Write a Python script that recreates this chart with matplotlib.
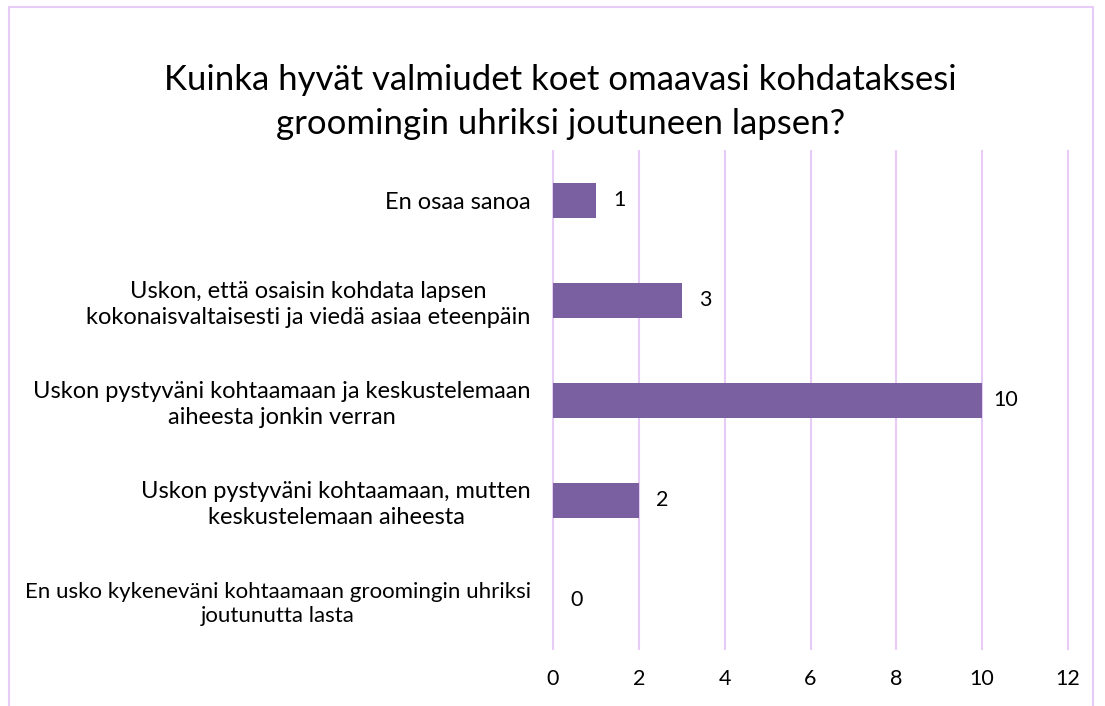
import matplotlib.pyplot as plt
from matplotlib.patches import Rectangle

categories = [
    "En usko kykeneväni kohtaamaan groomingin uhriksi\njoutunutta lasta",
    "Uskon pystyväni kohtaamaan, mutten\nkeskustelemaan aiheesta",
    "Uskon pystyväni kohtaamaan ja keskustelemaan\naiheesta jonkin verran",
    "Uskon, että osaisin kohdata lapsen\nkokonaisvaltaisesti ja viedä asiaa eteenpäin",
    "En osaa sanoa",
]
values = [0, 2, 10, 3, 1]
xticks = [0, 2, 4, 6, 8, 10, 12]
title = "Kuinka hyvät valmiudet koet omaavasi kohdataksesi\ngroomingin uhriksi joutuneen lapsen?"

bar_color = "#7A60A1"
grid_color = "#E8CCF8"
font = ["Lato", "DejaVu Sans"]
plt.rcParams["font.family"] = font

fig = plt.figure(figsize=(11.05, 7.06), dpi=100)
fig.patches.append(Rectangle((9/1105, -0.01), (1093-9)/1105, 1 - 7/706 + 0.01,
                             transform=fig.transFigure, fill=False,
                             edgecolor=grid_color, linewidth=1.5))

ax = fig.add_axes([553/1105, 1 - 650/706, (1068-553)/1105, 500/706])
ypos = list(range(len(categories)))
ax.barh(ypos, values, height=0.35, color=bar_color, zorder=3)
ax.set_xlim(0, 12)
ax.set_ylim(-0.5, 4.5)
ax.set_xticks(xticks)
ax.set_xticklabels([str(t) for t in xticks], fontsize=15.5)
ax.set_yticks(ypos)
ax.set_yticklabels(categories, fontsize=17, multialignment="center",
                   linespacing=1.28)
# the longest label: Lato is wider than the original font for this one
ax.get_yticklabels()[0].set_fontsize(16)
ax.tick_params(axis="both", length=0, colors="black")
ax.tick_params(axis="x", pad=14)
ax.tick_params(axis="y", pad=16)
for s in ax.spines.values():
    s.set_visible(False)
ax.vlines(xticks, -0.5, 4.5, colors=grid_color, linewidth=1.5, zorder=0,
          clip_on=False)
for y, v in zip(ypos, values):
    ax.annotate(str(v), (v, y), xytext=(17, 0), textcoords="offset points",
                ha="center", va="center", fontsize=15.5)

fig.text(0.507, 1 - 102/706, title, ha="center", va="center", fontsize=25,
         linespacing=1.5)

fig.savefig("out.png", dpi=100)
